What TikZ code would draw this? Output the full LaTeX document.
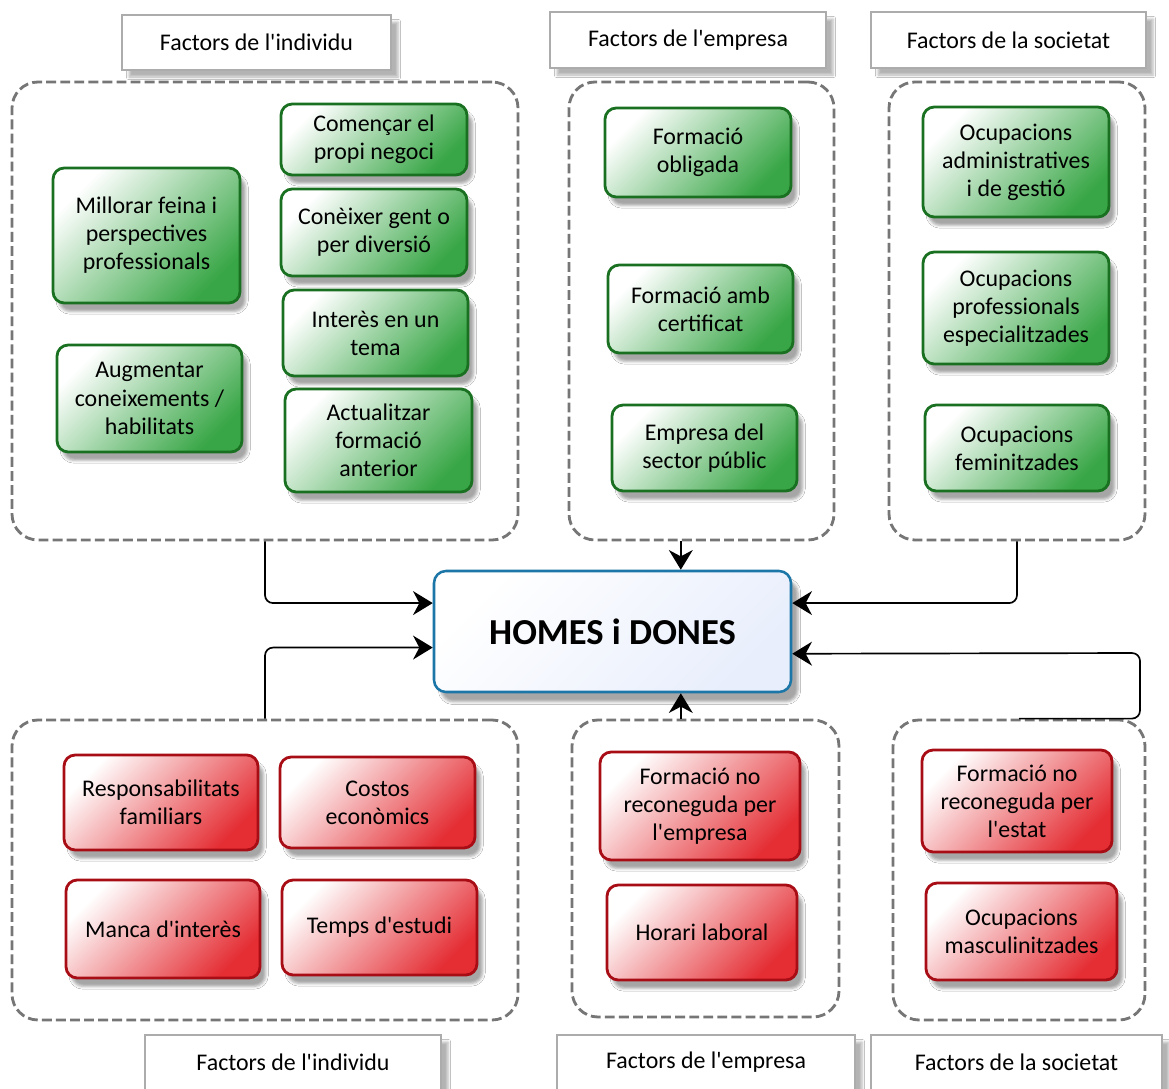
\documentclass[tikz,border=0pt]{standalone}
\usepackage{fontspec}
\setmainfont{Carlito}[Ligatures=TeXOff]
\usetikzlibrary{arrows.meta,calc,shadows.blur}

\definecolor{grnline}{RGB}{24,112,32}
\definecolor{grnfill}{RGB}{56,166,70}
\definecolor{redline}{RGB}{168,12,20}
\definecolor{redfill}{RGB}{228,46,52}
\definecolor{blueline}{RGB}{28,118,168}
\definecolor{bluefill}{RGB}{232,238,252}
\definecolor{dashgrey}{RGB}{118,118,118}

\begin{document}
\begin{tikzpicture}[x=0.025cm,y=-0.025cm,
    font=\fontsize{17}{20}\selectfont,
    sz/.style 2 args={minimum width=#1*0.025cm,minimum height=#2*0.025cm},
    box/.style={draw,line width=2pt,rounded corners=0.28cm,align=center,inner sep=2pt,
        blur shadow={shadow xshift=4pt,shadow yshift=-6pt,shadow opacity=35}},
    good/.style={box,draw=grnline,top color=white,bottom color=grnfill,shading angle=45},
    bad/.style={box,draw=redline,top color=white,bottom color=redfill,shading angle=45},
    group/.style={draw=dashgrey,line width=2pt,dash pattern=on 7pt off 3pt,rounded corners=0.65cm},
    title/.style={draw=gray!65,line width=0.8pt,fill=white,
        blur shadow={shadow xshift=5pt,shadow yshift=-5pt,shadow opacity=30}},
    centre/.style={draw=blueline,line width=1.8pt,rounded corners=0.3cm,top color=white,bottom color=bluefill,
        shading angle=45,font=\fontsize{26}{30}\selectfont\bfseries,
        blur shadow={shadow xshift=5pt,shadow yshift=-7pt,shadow opacity=35}},
    arc/.style={draw,line width=1.2pt,-{Stealth[length=14pt,width=17pt,inset=4.5pt]},rounded corners=0.2cm}]

    \path[use as bounding box,fill=white] (0,0) rectangle (1169,1089);

    % groups
    \node[group,sz={506}{458}] (gIndT) at (265,311) {};
    \node[group,sz={265}{458}] (gEmpT) at (701.5,311) {};
    \node[group,sz={256}{458}] (gSocT) at (1017,311) {};
    \node[group,sz={506}{300}] (gIndB) at (265,870) {};
    \node[group,sz={267}{297}] (gEmpB) at (705.5,868.5) {};
    \node[group,sz={252}{300}] (gSocB) at (1019,870) {};

    % titles
    \node[title,sz={269}{55}] (tIndT) at (256.5,42.5) {Factors de l'individu};
    \node[title,sz={276}{56}] (tEmpT) at (688,40) {Factors de l'empresa};
    \node[title,sz={275}{56}] (tSocT) at (1008.5,40) {Factors de la societat};
    \node[title,sz={296}{55}] (tIndB) at (293,1062.5) {Factors de l'individu};
    \node[title,sz={298}{55}] (tEmpB) at (706,1062.5) {Factors de l'empresa};
    \node[title,sz={291}{55}] (tSocB) at (1016.5,1062.5) {Factors de la societat};

    % individu (+)
    \node[good,sz={187}{135}] (mill) at (146.5,235.5) {Millorar feina i\\perspectives\\professionals};
    \node[good,sz={185}{107}] (aug) at (149.5,398.5) {Augmentar\\coneixements /\\habilitats};
    \node[good,sz={186}{71}] (neg) at (374,139.5) {Començar el\\propi negoci};
    \node[good,sz={186}{87}] (gent) at (374,232.5) {Conèixer gent o\\per diversió};
    \node[good,sz={185}{86}] (tema) at (375.5,333) {Interès en un\\tema};
    \node[good,sz={187}{103}] (act) at (378.5,440.5) {Actualitzar\\formació\\anterior};

    % empresa (+)
    \node[good,sz={186}{89}] (obl) at (698,152.5) {Formació\\obligada};
    \node[good,sz={185}{88}] (cert) at (700.5,309) {Formació amb\\certificat};
    \node[good,sz={185}{86}] (pub) at (704.5,448) {Empresa del\\sector públic};

    % societat (+)
    \node[good,sz={186}{110}] (adm) at (1016,162) {Ocupacions\\administratives\\i de gestió};
    \node[good,sz={186}{112}] (esp) at (1016,308) {Ocupacions\\professionals\\especialitzades};
    \node[good,sz={184}{86}] (fem) at (1017,448) {Ocupacions\\feminitzades};

    % individu (-)
    \node[bad,sz={194}{95}] (resp) at (161,802.5) {Responsabilitats\\familiars};
    \node[bad,sz={195}{91}] (cost) at (377.5,802.5) {Costos\\econòmics};
    \node[bad,sz={194}{98}] (manca) at (163,929) {Manca d'interès};
    \node[bad,sz={195}{95}] (temps) at (379.5,927.5) {Temps d'estudi};

    % empresa (-)
    \node[bad,sz={200}{108}] (noemp) at (700,806) {Formació no\\reconeguda per\\l'empresa};
    \node[bad,sz={190}{95}] (hor) at (702,932.5) {Horari laboral};

    % societat (-)
    \node[bad,sz={190}{102}] (noest) at (1017,801) {Formació no\\reconeguda per\\l'estat};
    \node[bad,sz={191}{97}] (masc) at (1021.5,931.5) {Ocupacions\\masculinitzades};

    \node[centre,sz={357}{121}] (homes) at (612.5,631.5) {HOMES i DONES};

    % connectors
    \coordinate (hL1) at ($(homes.north west)!.27!(homes.south west)$);
    \coordinate (hL2) at ($(homes.north west)!.63!(homes.south west)$);
    \coordinate (hR1) at ($(homes.north east)!.27!(homes.south east)$);
    \coordinate (hR2) at ($(homes.north east)!.68!(homes.south east)$);
    \coordinate (hT) at ($(homes.north west)!.69!(homes.north east)$);
    \coordinate (hB) at ($(homes.south west)!.69!(homes.south east)$);
    \coordinate (kink) at (1140,653);

    \draw[arc] (gIndT.south) |- (hL1);
    \draw[arc] (gEmpT.south -| hT) -- (hT);
    \draw[arc] (gSocT.south) |- (hR1);
    \draw[arc] (gIndB.north) |- (hL2);
    \draw[arc] (gEmpB.north -| hB) -- (hB);
    \draw[arc] (gSocB.north) -- (gSocB.north -| kink) -- (kink) -- (hR2);
\end{tikzpicture}
\end{document}
